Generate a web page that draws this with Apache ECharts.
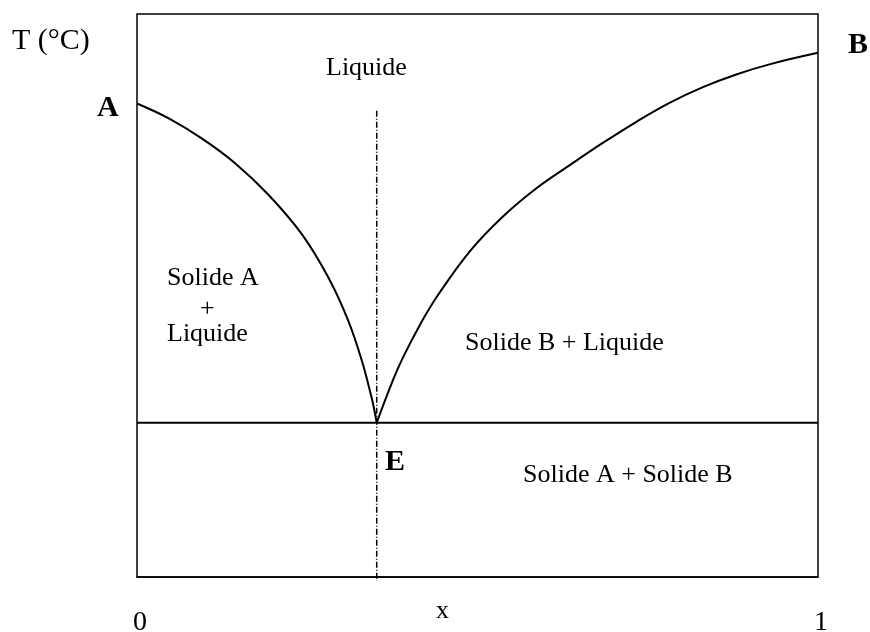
<!DOCTYPE html>
<html>
<head>
    <meta charset="utf-8">
    <title>Diagramme binaire</title>
    <style>
        html, body { margin: 0; padding: 0; background: #fff; }
    </style>
</head>
<body>
    <div id="main" style="width:870px;height:632px"></div>
    <script src="https://cdn.jsdelivr.net/npm/echarts@6/dist/echarts.min.js"></script>
    <script type="text/javascript">

        // liquidus côté A (x, T)
        const CURVE_A = [
            [0, 84.1], [0.046, 81.5], [0.095, 77.9], [0.144, 73.5], [0.193, 67.9],
            [0.242, 60.9], [0.281, 53.2], [0.310, 45.6], [0.330, 38.5], [0.345, 31.6],
            [0.352, 27.4]
        ];
        // liquidus côté B
        const CURVE_B = [
            [0.352, 27.4], [0.376, 35.0], [0.391, 39.1], [0.416, 44.9], [0.441, 49.9],
            [0.489, 57.9], [0.537, 64.0], [0.587, 69.1], [0.636, 73.2], [0.684, 77.1],
            [0.734, 80.9], [0.782, 84.2], [0.831, 87.0], [0.881, 89.3], [0.930, 91.1],
            [1, 93.1]
        ];
        const EUTECTIC_T = 27.4;
        const EUTECTIC_X = 0.352;
        const X_TICKS = ['0', '1'];

        const FONT = '"Liberation Serif", "DejaVu Serif", serif';

        let myChart = echarts.init(document.getElementById('main'));

        function txt(text, x, y, size, bold) {
            return {
                type: 'text',
                left: x,
                top: y,
                style: {
                    text: text,
                    font: (bold ? 'bold ' : '') + size + 'px ' + FONT,
                    fill: '#000'
                }
            };
        }

        const option = {
            animation: false,
            grid: {
                left: 137, right: 52, top: 14, bottom: 55,
                containLabel: false,
                outerBoundsMode: 'none',
                show: true, borderColor: '#000', borderWidth: 1.5
            },
            xAxis: {
                type: 'value',
                min: 0, max: 1, interval: 1,
                axisLine: { show: true, lineStyle: { color: '#000', width: 1.5 } },
                axisTick: { show: false },
                splitLine: { show: false },
                axisLabel: {
                    margin: 32,
                    padding: [0, 0, 0, 6],
                    fontFamily: FONT, fontSize: 28, color: '#000',
                    formatter: function (v) { return X_TICKS[Math.round(v)]; }
                }
            },
            yAxis: {
                type: 'value',
                min: 0, max: 100,
                axisLine: { show: false },
                axisTick: { show: false },
                splitLine: { show: false },
                axisLabel: { show: false }
            },
            series: [
                {
                    type: 'line', data: CURVE_A, smooth: 0.35, symbol: 'none',
                    lineStyle: { color: '#000', width: 2 }
                },
                {
                    type: 'line', data: CURVE_B, smooth: 0.4, symbol: 'none',
                    lineStyle: { color: '#000', width: 2 }
                },
                {
                    type: 'line', data: [[0, EUTECTIC_T], [1, EUTECTIC_T]], symbol: 'none',
                    lineStyle: { color: '#000', width: 2 }
                },
                {
                    type: 'line', data: [[EUTECTIC_X, 82.8], [EUTECTIC_X, -0.7]], symbol: 'none',
                    clip: false,
                    lineStyle: { color: '#000', width: 1.5, type: [6, 2, 1, 2] }
                }
            ],
            graphic: [
                txt('T (°C)', 12, 26, 30, false),
                txt('A', 97, 93, 30, true),
                txt('B', 848, 30, 30, true),
                txt('E', 385, 447, 30, true),
                txt('Liquide', 326, 55, 26, false),
                txt('Solide A', 167, 265, 26, false),
                txt('+', 200, 296, 26, false),
                txt('Liquide', 167, 321, 26, false),
                txt('Solide B + Liquide', 465, 330, 26, false),
                txt('Solide A + Solide B', 523, 462, 26, false),
                txt('x', 436, 598, 26, false)
            ]
        };

        myChart.setOption(option);

    </script>
</body>
</html>
